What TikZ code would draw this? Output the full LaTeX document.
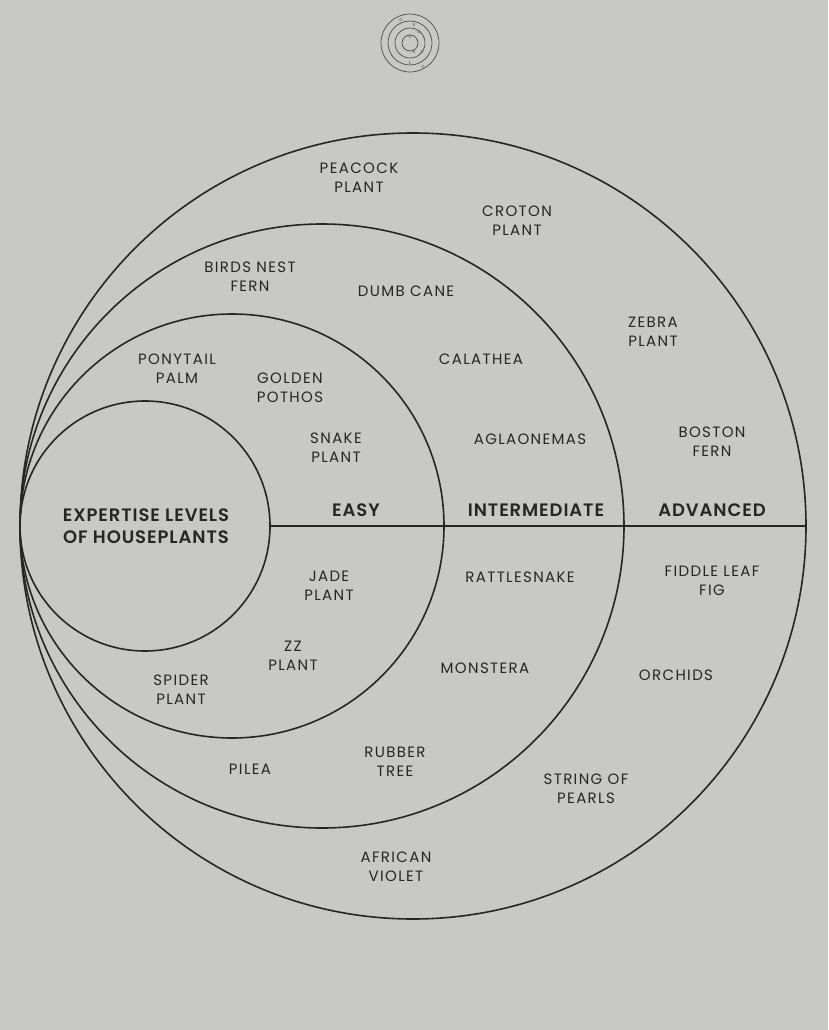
\documentclass[tikz,border=0pt]{standalone}
\usepackage{fontspec}
\setmainfont{Poppins}
\newfontfamily\labfont[LetterSpace=9]{Poppins}
\newfontfamily\headfont[LetterSpace=5]{Poppins SemiBold}
\begin{document}
\begin{tikzpicture}[x=1pt,y=-1pt,
  ring/.style={draw=black!85,line width=1.6pt},
  lab/.style={align=center,font=\labfont\fontsize{15}{19}\selectfont,text=black!85,inner sep=0pt},
  head/.style={align=center,font=\headfont\fontsize{18}{22}\selectfont,text=black!85,inner sep=0pt},
  logo/.style={draw=black!70,line width=0.7pt},
  tiny/.style={font=\fontsize{4}{4}\selectfont,text=black!70,inner sep=0pt}]
\fill[fill={rgb,255:red,200;green,200;blue,199}] (0,0) rectangle (828,1030);
\useasboundingbox (0,0) rectangle (828,1030);
% logo
\foreach \r in {29,22,15,8} \draw[logo] (410,43) circle (\r);
\node[tiny] (lg) at (401,20) {G};
\node[tiny] (lr) at (414,25) {R};
\node[tiny] (lo) at (419,32) {O};
\node[tiny] (lu) at (410,37) {U};
\node[tiny] (ln) at (414,52) {N};
\node[tiny] (ld) at (422,52) {D};
\node[tiny] (le) at (410,63) {E};
\node[tiny] (ld2) at (423,67) {D};
% rings
\draw[ring] (413,526) circle (393);
\draw[ring] (322,526) circle (302);
\draw[ring] (232,526) circle (212);
\draw[ring] (145,526) circle (125);
\coordinate (l0) at (270,526);
\coordinate (l1) at (806,526);
\draw[ring] (l0) -- (l1);
% headings
\node[head] (t) at (146,526) {EXPERTISE LEVELS\\OF HOUSEPLANTS};
\node[head] (e) at (356,510) {EASY};
\node[head] (i) at (536,510) {INTERMEDIATE};
\node[head] (a) at (712,510) {ADVANCED};
% easy
\node[lab] (p1) at (177,369) {PONYTAIL\\PALM};
\node[lab] (p2) at (290,388) {GOLDEN\\POTHOS};
\node[lab] (p3) at (336,448) {SNAKE\\PLANT};
\node[lab] (p4) at (329,586) {JADE\\PLANT};
\node[lab] (p5) at (293,656) {ZZ\\PLANT};
\node[lab] (p6) at (181,690) {SPIDER\\PLANT};
% intermediate
\node[lab] (p7) at (250,277) {BIRDS NEST\\FERN};
\node[lab] (p8) at (406,291) {DUMB CANE};
\node[lab] (p9) at (481,359) {CALATHEA};
\node[lab] (p10) at (530,439) {AGLAONEMAS};
\node[lab] (p11) at (520,577) {RATTLESNAKE};
\node[lab] (p12) at (485,668) {MONSTERA};
\node[lab] (p13) at (395,762) {RUBBER\\TREE};
\node[lab] (p14) at (250,769) {PILEA};
% advanced
\node[lab] (p15) at (359,178) {PEACOCK\\PLANT};
\node[lab] (p16) at (517,221) {CROTON\\PLANT};
\node[lab] (p17) at (653,332) {ZEBRA\\PLANT};
\node[lab] (p18) at (712,442) {BOSTON\\FERN};
\node[lab] (p19) at (712,581) {FIDDLE LEAF\\FIG};
\node[lab] (p20) at (676,675) {ORCHIDS};
\node[lab] (p21) at (586,789) {STRING OF\\PEARLS};
\node[lab] (p22) at (396,867) {AFRICAN\\VIOLET};
\end{tikzpicture}
\end{document}
